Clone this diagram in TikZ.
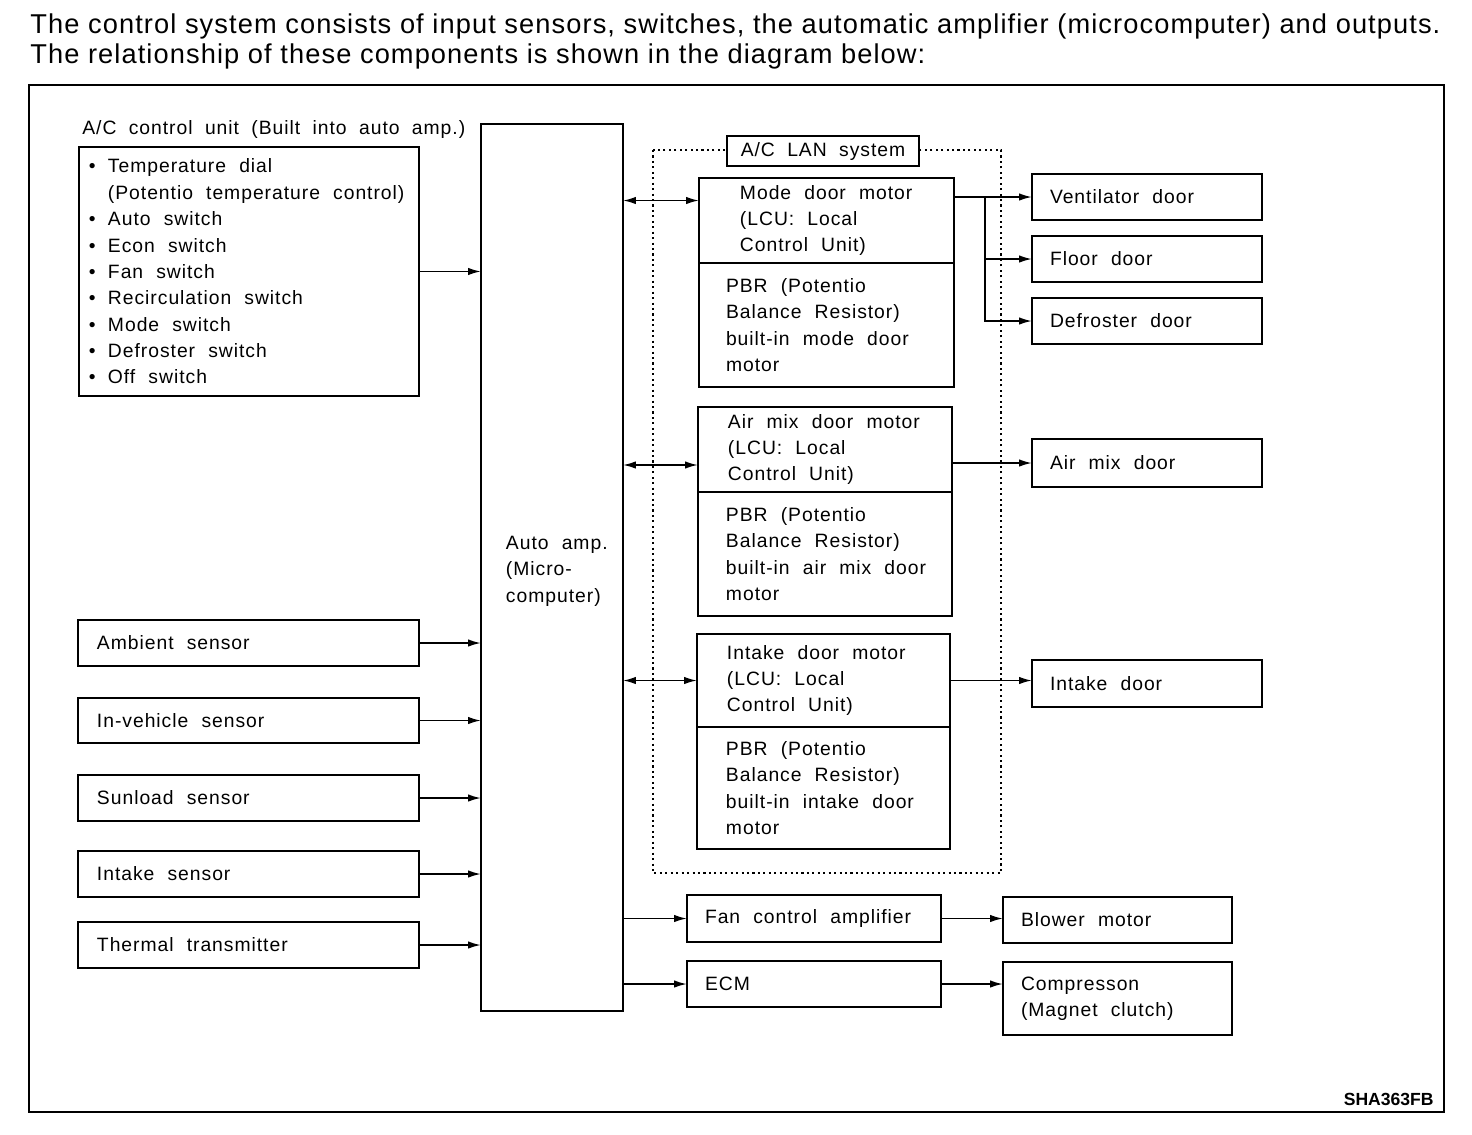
\documentclass[tikz,border=0pt]{standalone}
\usepackage{fontspec}
\setmainfont{Liberation Sans}
\newfontfamily\diafont[LetterSpace=5]{Liberation Sans}
\newfontfamily\titlefont[LetterSpace=4]{Liberation Sans}
\usetikzlibrary{arrows.meta,calc,positioning}
\newcommand\diatxt{\diafont\fontsize{11pt}{15pt}\selectfont\spaceskip=0.64em\relax}
\newcommand\titletxt{\titlefont\fontsize{15.5pt}{17pt}\selectfont}
\newcommand\itm{\makebox[0.38cm][l]{\textbullet}}
\newcommand\itmgap{\hspace*{0.38cm}}
\tikzset{
  box/.style={draw, line width=1.2pt, outer sep=0pt, anchor=north west,
    align=left, inner ysep=0pt, font=\diatxt,
    execute at begin node={\spaceskip=0.68em\relax}},
  arr/.style={line width=1pt, -{Latex[length=0.26cm,width=0.15cm]}},
  biarr/.style={line width=1pt,
    {Latex[length=0.26cm,width=0.15cm]}-{Latex[length=0.26cm,width=0.15cm]}},
  lanline/.style={line width=1pt, dash pattern=on 1.2pt off 1.9pt}
}

\begin{document}
\begin{tikzpicture}[x=0.02cm, y=-0.02cm]

    \useasboundingbox (0,0) rectangle (1472,1134);

    \node[anchor=base west, inner sep=0, font=\titletxt] (tl1) at (30,33)
      {The control system consists of input sensors, switches, the automatic amplifier (microcomputer) and outputs.};
    \node[anchor=base west, inner sep=0, font=\titletxt] (tl2) at (30,63)
      {The relationship of these components is shown in the diagram below:};

    \draw[line width=1.2pt] (29,85) rectangle (1444,1112);

    % inputs
    \node[anchor=base west, inner sep=0, font=\diatxt] (acu) at (82,134) {A/C control unit (Built into auto amp.)};
    \node[box, minimum width=6.8cm, minimum height=4.98cm, inner xsep=0.2cm, text width=6.4cm] (sw) at (79,147)
      {\itm Temperature~dial\\ \itmgap(Potentio~temperature~control)\\ \itm Auto~switch\\ \itm Econ~switch\\
       \itm Fan~switch\\ \itm Recirculation~switch\\ \itm Mode~switch\\ \itm Defroster~switch\\ \itm Off~switch};

    \node[box, minimum width=6.82cm, minimum height=0.92cm, inner xsep=0.38cm, text width=6.06cm] (amb) at (78,620) {Ambient sensor};
    \node[box, minimum width=6.82cm, minimum height=0.9cm, inner xsep=0.38cm, text width=6.06cm] (inv) at (78,698) {In-vehicle sensor};
    \node[box, minimum width=6.82cm, minimum height=0.92cm, inner xsep=0.38cm, text width=6.06cm] (sun) at (78,775) {Sunload sensor};
    \node[box, minimum width=6.82cm, minimum height=0.92cm, inner xsep=0.38cm, text width=6.06cm] (ink) at (78,851) {Intake sensor};
    \node[box, minimum width=6.82cm, minimum height=0.92cm, inner xsep=0.38cm, text width=6.06cm] (thm) at (78,922) {Thermal transmitter};

    \node[box, minimum width=2.84cm, minimum height=17.74cm, inner xsep=0.5cm, text width=1.84cm, text depth=0.98cm] (amp) at (481,124)
      {Auto~amp.\\(Micro-\\computer)};

    % A/C LAN system
    \draw[lanline] (653,150) rectangle (1001,873);
    \node[draw, line width=1.2pt, fill=white, minimum width=3.84cm, minimum height=0.6cm, inner sep=0, font=\diatxt] (lan)
      at (823,151) {A/C LAN system};

    \node[box, minimum width=5.1cm, minimum height=1.7cm, inner xsep=0.82cm, text width=3.46cm] (mdu) at (699,178)
      {\mbox{Mode door motor}\\(LCU:~Local\\Control~Unit)};
    \node[box, minimum width=5.1cm, minimum height=2.48cm, inner xsep=0.54cm, text width=4.02cm] (mdl) at (mdu.south west)
      {PBR~(Potentio\\\mbox{Balance Resistor)}\\\mbox{built-in mode door}\\motor};

    \node[box, minimum width=5.08cm, minimum height=1.7cm, inner xsep=0.6cm, text width=3.88cm] (aru) at (698,407)
      {\mbox{Air mix door motor}\\(LCU:~Local\\Control~Unit)};
    \node[box, minimum width=5.08cm, minimum height=2.48cm, inner xsep=0.56cm, text width=3.96cm] (arl) at (aru.south west)
      {PBR~(Potentio\\\mbox{Balance Resistor)}\\\mbox{built-in air mix door}\\motor};

    \node[box, minimum width=5.06cm, minimum height=1.86cm, inner xsep=0.6cm, text width=3.86cm] (inu) at (697,634)
      {\mbox{Intake door motor}\\(LCU:~Local\\Control~Unit)};
    \node[box, minimum width=5.06cm, minimum height=2.44cm, inner xsep=0.58cm, text width=3.9cm] (inl) at (inu.south west)
      {PBR~(Potentio\\\mbox{Balance Resistor)}\\\mbox{built-in intake door}\\motor};

    % outputs
    \node[box, minimum width=4.6cm, minimum height=0.92cm, inner xsep=0.36cm, text width=3.88cm] (vnt) at (1032,174) {Ventilator door};
    \node[box, minimum width=4.6cm, minimum height=0.92cm, inner xsep=0.36cm, text width=3.88cm] (flr) at (1032,236) {Floor door};
    \node[box, minimum width=4.6cm, minimum height=0.92cm, inner xsep=0.36cm, text width=3.88cm] (dfr) at (1032,298) {Defroster door};
    \node[box, minimum width=4.6cm, minimum height=0.96cm, inner xsep=0.36cm, text width=3.88cm] (amd) at (1032,439) {Air mix door};
    \node[box, minimum width=4.6cm, minimum height=0.94cm, inner xsep=0.36cm, text width=3.88cm] (ind) at (1032,660) {Intake door};

    \node[box, minimum width=5.08cm, minimum height=0.94cm, inner xsep=0.36cm, text width=4.36cm] (fan) at (687,895) {\mbox{Fan control amplifier}};
    \node[box, minimum width=5.08cm, minimum height=0.92cm, inner xsep=0.36cm, text width=4.36cm] (ecm) at (687,961) {ECM};
    \node[box, minimum width=4.58cm, minimum height=0.92cm, inner xsep=0.36cm, text width=3.86cm] (blw) at (1003,897) {Blower motor};
    \node[box, minimum width=4.58cm, minimum height=1.46cm, inner xsep=0.36cm, text width=3.86cm] (cmp) at (1003,962)
      {Compresson\\(Magnet~clutch)};

    \node[anchor=base east, inner sep=0, font=\bfseries\fontsize{10pt}{12pt}\selectfont] (ref) at (1434,1105) {SHA363FB};

    % connections
    \draw[arr] (sw.east) -- (sw.east -| amp.west);
    \foreach \s in {amb,inv,sun,ink,thm}
      \draw[arr] (\s.east) -- (\s.east -| amp.west);

    \coordinate (mdin) at ([yshift=0.4cm]mdu.west);
    \coordinate (arin) at ([yshift=-0.31cm]aru.west);
    \draw[biarr] (mdin -| amp.east) -- (mdin);
    \draw[biarr] (arin -| amp.east) -- (arin);
    \draw[biarr] (inu.west -| amp.east) -- (inu.west);

    \coordinate (mdbr) at ($(vnt.west -| mdu.east)!0.4!(vnt.west)$);
    \draw[arr] (vnt.west -| mdu.east) -- (vnt.west);
    \draw[arr] (mdbr) |- (flr.west);
    \draw[arr] (mdbr) |- (dfr.west);
    \draw[arr] (amd.west -| aru.east) -- (amd.west);
    \draw[arr] (inu.east) -- (inu.east -| ind.west);

    \draw[arr] (fan.west -| amp.east) -- (fan.west);
    \draw[arr] (ecm.west -| amp.east) -- (ecm.west);
    \draw[arr] (fan.east) -- (fan.east -| blw.west);
    \draw[arr] (ecm.east) -- (ecm.east -| cmp.west);
  \end{tikzpicture}
\end{document}
